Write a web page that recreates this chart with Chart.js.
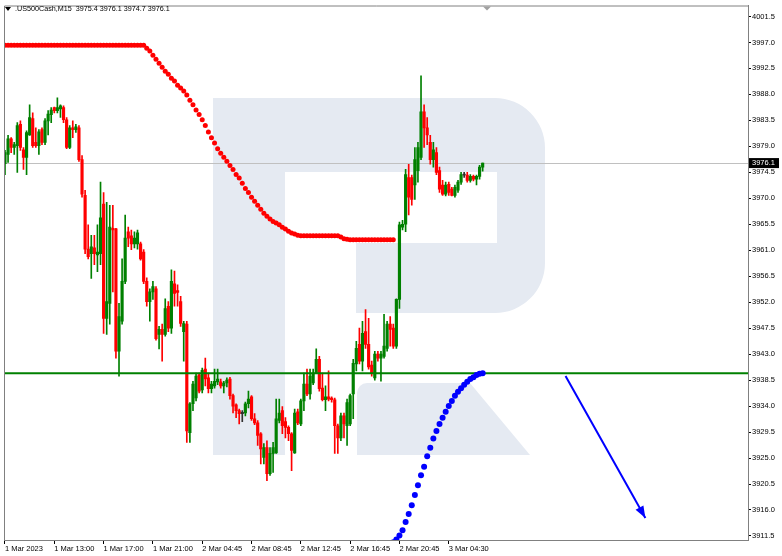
<!DOCTYPE html>
<html>
<head>
<meta charset="utf-8">
<script src="https://cdn.jsdelivr.net/npm/chart.js@4.4.0/dist/chart.umd.min.js"></script>
<style>
html, body { margin: 0; padding: 0; background: #fff; }
canvas { display: block; }
</style>
</head>
<body>
<canvas id="chart" width="782" height="556"></canvas>
<script>
// Chart header
const symbolTitle = '.US500Cash,M15';
const lastQuote = ['3975.4', '3976.1', '3974.7', '3976.1'];

// Time axis: bar index of every label
const xLabels = ['1 Mar 2023', '1 Mar 13:00', '1 Mar 17:00', '1 Mar 21:00', '2 Mar 04:45',
    '2 Mar 08:45', '2 Mar 12:45', '2 Mar 16:45', '2 Mar 20:45', '3 Mar 04:30'];
const xLabelIndex = [0, 16, 32, 48, 64, 80, 96, 112, 128, 144];

// Price axis
const yTicks = [3911.5, 3916.0, 3920.5, 3925.0, 3929.5, 3934.0, 3938.5, 3943.0, 3947.5, 3952.0,
    3956.5, 3961.0, 3965.5, 3970.0, 3974.5, 3979.0, 3983.5, 3988.0, 3992.5, 3997.0, 4001.5];

// M15 candles
const opens = [
    3976.0, 3977.6, 3980.3, 3978.8, 3979.1, 3982.8, 3978.4, 3977.1, 3981.0, 3983.8,
    3979.7, 3979.1, 3981.9, 3979.7, 3983.4, 3984.5, 3985.7, 3985.2, 3985.5, 3985.7,
    3983.6, 3978.8, 3982.2, 3981.9, 3982.2, 3976.7, 3970.5, 3961.2, 3960.4, 3961.4,
    3960.2, 3960.4, 3969.0, 3949.2, 3951.8, 3964.8, 3964.7, 3943.5, 3948.7, 3955.6,
    3964.2, 3963.5, 3962.1, 3962.1, 3962.1, 3960.7, 3955.6, 3952.1, 3953.8, 3954.3,
    3946.4, 3947.3, 3946.4, 3951.3, 3947.5, 3955.2, 3954.0, 3952.1, 3946.9, 3948.2,
    3929.4, 3934.4, 3935.4, 3939.4, 3936.8, 3940.4, 3938.9, 3937.0, 3937.5, 3938.2,
    3938.2, 3937.5, 3938.0, 3938.7, 3935.8, 3934.2, 3933.2, 3932.8, 3932.8, 3934.4,
    3935.6, 3931.8, 3931.1, 3929.2, 3925.1, 3926.8, 3922.3, 3925.8, 3925.9, 3931.5,
    3933.2, 3931.3, 3930.3, 3929.2, 3925.9, 3933.0, 3930.9, 3934.9, 3937.8, 3936.1,
    3938.0, 3939.7, 3942.1, 3937.1, 3935.1, 3935.6, 3935.4, 3935.1, 3930.6, 3928.5,
    3932.3, 3930.6, 3930.9, 3936.1, 3941.3, 3944.7, 3941.8, 3946.9, 3944.7, 3941.1,
    3938.9, 3943.0, 3942.3, 3942.6, 3944.0, 3948.2, 3947.5, 3944.4, 3952.5, 3965.0,
    3965.5, 3973.6, 3973.6, 3972.3, 3974.8, 3977.1, 3985.0, 3982.2, 3979.7, 3976.7,
    3977.9, 3974.8, 3972.3, 3970.7, 3972.4, 3971.6, 3970.5, 3971.4, 3972.8, 3974.1,
    3974.0, 3973.1, 3973.8, 3973.3, 3973.8, 3975.4
];
const highs = [
    3978.3, 3980.9, 3980.5, 3979.7, 3983.1, 3983.4, 3978.8, 3981.7, 3986.2, 3984.8,
    3982.2, 3981.9, 3982.2, 3983.8, 3985.2, 3985.7, 3985.8, 3987.4, 3986.2, 3986.0,
    3984.0, 3982.6, 3983.4, 3982.8, 3982.6, 3977.4, 3971.4, 3965.4, 3963.6, 3963.6,
    3965.4, 3972.8, 3971.0, 3969.3, 3968.8, 3968.8, 3964.8, 3951.8, 3959.5, 3967.1,
    3965.0, 3964.5, 3964.2, 3964.5, 3962.4, 3961.1, 3956.2, 3954.3, 3955.6, 3954.7,
    3947.8, 3948.2, 3952.6, 3952.1, 3957.6, 3957.4, 3955.0, 3953.0, 3948.7, 3948.7,
    3934.6, 3938.3, 3939.7, 3939.7, 3940.6, 3942.3, 3939.7, 3938.3, 3940.4, 3940.4,
    3938.7, 3938.3, 3938.9, 3939.0, 3936.1, 3934.4, 3933.5, 3933.2, 3934.7, 3936.6,
    3935.8, 3932.7, 3931.5, 3929.4, 3927.5, 3928.0, 3926.8, 3927.7, 3935.2, 3935.2,
    3933.9, 3932.0, 3930.6, 3929.4, 3933.5, 3933.5, 3935.2, 3939.7, 3940.4, 3940.4,
    3940.4, 3943.9, 3942.6, 3939.7, 3937.5, 3940.1, 3935.6, 3935.4, 3930.9, 3932.8,
    3932.8, 3935.2, 3936.1, 3942.1, 3945.2, 3947.5, 3948.7, 3950.7, 3949.2, 3941.8,
    3943.5, 3943.5, 3943.5, 3949.9, 3948.7, 3949.5, 3948.2, 3952.6, 3965.9, 3966.2,
    3975.0, 3975.9, 3974.0, 3978.8, 3979.7, 3991.2, 3986.2, 3984.0, 3980.9, 3979.7,
    3978.8, 3975.4, 3973.1, 3972.8, 3972.8, 3971.9, 3972.3, 3973.1, 3974.5, 3974.5,
    3974.5, 3974.1, 3974.0, 3974.0, 3975.7, 3976.1
];
const lows = [
    3974.1, 3976.2, 3977.9, 3977.6, 3974.5, 3978.3, 3975.0, 3974.1, 3980.9, 3978.8,
    3978.8, 3977.6, 3979.3, 3979.3, 3981.0, 3983.1, 3984.8, 3984.8, 3984.0, 3983.1,
    3978.6, 3978.6, 3980.5, 3981.4, 3976.4, 3970.2, 3960.4, 3959.5, 3956.1, 3958.5,
    3957.3, 3958.5, 3946.6, 3946.4, 3948.2, 3953.8, 3942.3, 3939.2, 3948.2, 3955.2,
    3961.6, 3961.1, 3961.4, 3961.2, 3959.3, 3955.2, 3951.3, 3948.7, 3952.5, 3945.4,
    3943.9, 3941.8, 3946.1, 3946.9, 3946.6, 3951.3, 3951.3, 3947.8, 3941.8, 3927.7,
    3927.7, 3933.2, 3934.9, 3936.3, 3936.3, 3937.5, 3936.3, 3936.3, 3937.1, 3937.7,
    3937.1, 3936.3, 3937.3, 3935.2, 3932.8, 3932.0, 3930.9, 3931.3, 3932.3, 3933.7,
    3931.5, 3930.8, 3927.2, 3924.0, 3924.0, 3921.1, 3922.0, 3922.5, 3925.8, 3931.1,
    3929.2, 3928.5, 3928.0, 3922.8, 3925.8, 3930.8, 3930.6, 3933.2, 3935.8, 3935.2,
    3937.7, 3939.6, 3936.6, 3934.9, 3933.2, 3934.9, 3934.7, 3925.8, 3925.8, 3928.0,
    3928.5, 3927.2, 3930.6, 3931.8, 3940.1, 3941.3, 3940.1, 3944.0, 3940.4, 3939.2,
    3938.5, 3941.8, 3938.3, 3942.3, 3943.5, 3944.4, 3944.0, 3944.0, 3950.9, 3964.5,
    3964.2, 3967.1, 3968.8, 3969.8, 3972.8, 3976.7, 3978.8, 3979.3, 3975.9, 3975.4,
    3974.1, 3971.0, 3970.5, 3970.4, 3970.5, 3970.4, 3970.2, 3971.0, 3972.4, 3973.6,
    3972.8, 3972.8, 3973.0, 3972.3, 3973.3, 3974.7
];
const closes = [
    3977.9, 3980.3, 3978.8, 3979.3, 3982.6, 3978.8, 3977.1, 3981.4, 3984.0, 3979.1,
    3979.1, 3981.5, 3979.7, 3983.4, 3984.6, 3985.3, 3985.2, 3985.7, 3986.0, 3983.6,
    3978.8, 3982.2, 3981.9, 3982.4, 3976.7, 3970.7, 3961.2, 3959.9, 3961.6, 3960.4,
    3960.7, 3966.6, 3949.2, 3952.1, 3965.0, 3964.5, 3943.5, 3949.5, 3955.6, 3963.1,
    3963.1, 3962.1, 3963.1, 3964.0, 3959.5, 3955.6, 3952.1, 3953.8, 3954.7, 3945.7,
    3947.3, 3946.4, 3950.9, 3947.5, 3955.6, 3953.5, 3953.7, 3948.3, 3948.3, 3929.7,
    3934.4, 3937.8, 3939.2, 3936.6, 3940.2, 3938.7, 3937.0, 3937.8, 3938.3, 3938.7,
    3937.5, 3938.0, 3938.5, 3935.8, 3934.0, 3933.2, 3932.7, 3932.8, 3934.4, 3935.2,
    3931.8, 3931.1, 3928.9, 3926.6, 3926.8, 3922.3, 3925.8, 3926.8, 3931.8, 3932.8,
    3930.6, 3930.3, 3929.2, 3926.3, 3932.8, 3931.1, 3934.9, 3937.8, 3936.1, 3939.2,
    3939.7, 3942.1, 3937.0, 3935.1, 3935.6, 3935.2, 3935.1, 3930.6, 3928.5, 3932.3,
    3930.9, 3934.6, 3935.8, 3941.4, 3944.0, 3941.8, 3946.6, 3944.7, 3940.8, 3939.7,
    3943.0, 3942.3, 3943.0, 3944.4, 3948.2, 3947.3, 3944.4, 3952.5, 3965.4, 3965.5,
    3974.1, 3970.2, 3969.8, 3976.7, 3978.8, 3985.0, 3982.2, 3981.0, 3976.7, 3978.4,
    3974.5, 3971.6, 3970.7, 3972.3, 3971.0, 3970.5, 3971.9, 3972.8, 3974.1, 3974.1,
    3973.1, 3973.8, 3973.3, 3973.8, 3975.4, 3976.1
];

// Red dotted indicator, one value per bar from bar 0
const redDots = [
    3996.5, 3996.5, 3996.5, 3996.5, 3996.5, 3996.5, 3996.5, 3996.5, 3996.5, 3996.5,
    3996.5, 3996.5, 3996.5, 3996.5, 3996.5, 3996.5, 3996.5, 3996.5, 3996.5, 3996.5,
    3996.5, 3996.5, 3996.5, 3996.5, 3996.5, 3996.5, 3996.5, 3996.5, 3996.5, 3996.5,
    3996.5, 3996.5, 3996.5, 3996.5, 3996.5, 3996.5, 3996.5, 3996.5, 3996.5, 3996.5,
    3996.5, 3996.5, 3996.5, 3996.5, 3996.5, 3996.5, 3996.0, 3995.5, 3994.8, 3994.1,
    3993.4, 3992.7, 3992.0, 3991.5, 3990.8, 3990.3, 3989.6, 3989.1, 3988.6, 3987.9,
    3987.0, 3986.2, 3985.3, 3984.5, 3983.6, 3982.6, 3981.5, 3980.5, 3979.6, 3978.6,
    3977.8, 3977.1, 3976.4, 3975.7, 3975.0, 3974.1, 3973.5, 3972.6, 3971.7, 3971.0,
    3970.2, 3969.5, 3968.8, 3968.1, 3967.4, 3966.9, 3966.4, 3966.0, 3965.7, 3965.4,
    3965.0, 3964.7, 3964.3, 3964.0, 3963.8, 3963.6, 3963.5, 3963.5, 3963.5, 3963.5,
    3963.5, 3963.5, 3963.5, 3963.5, 3963.5, 3963.5, 3963.5, 3963.5, 3963.5, 3963.3,
    3963.0, 3962.9, 3962.8, 3962.8, 3962.8, 3962.8, 3962.8, 3962.8, 3962.8, 3962.8,
    3962.8, 3962.8, 3962.8, 3962.8, 3962.8, 3962.8, 3962.8
];

// Blue dotted indicator, starts at bar 125
const blueStart = 125;
const blueDots = [
    3910.0, 3910.4, 3910.9, 3911.6, 3912.5, 3913.9, 3915.3, 3916.8, 3918.6, 3920.3,
    3922.0, 3923.5, 3925.3, 3926.8, 3928.4, 3929.7, 3930.9, 3932.0, 3933.0, 3934.0,
    3934.9, 3935.8, 3936.5, 3937.1, 3937.7, 3938.2, 3938.7, 3939.0, 3939.4, 3939.6,
    3939.7
];

// Horizontal level, bid line and forecast arrow (bar index, price)
const levelPrice = 3939.7;
const bidPrice = 3976.1;
const arrowBars = [181.9, 207.8];
const arrowPrices = [3939.2, 3914.6];

const xMin = -0.32;
const xMax = 241.1;
const yMin = 3910.8;
const yMax = 4003.4;
const fontFamily = "'Liberation Sans', Arial, sans-serif";

function candleColor(i) {
    if (closes[i] > opens[i]) return '#008000';
    if (closes[i] < opens[i]) return '#ff0000';
    return '#303030';
}

// Floating bar for the body, at least one pixel high
function bodyRange(i) {
    const o = opens[i];
    const c = closes[i];
    if (Math.abs(o - c) < 0.2) {
        return [Math.min(o, c) - 0.1, Math.max(o, c) + 0.1];
    }
    return [o, c];
}

const wickData = opens.map((o, i) => ({ x: i, y: [lows[i], highs[i]] }));
const bodyData = opens.map((o, i) => ({ x: i, y: bodyRange(i) }));
const colors = opens.map((o, i) => candleColor(i));
const redData = redDots.map((v, i) => ({ x: i, y: v }));
const blueData = blueDots.map((v, i) => ({ x: blueStart + i, y: v }));

// Watermark logo and bid line behind the candles
const backdropPlugin = {
    id: 'backdrop',
    beforeDatasetsDraw(chart) {
        const ctx = chart.ctx;
        const area = chart.chartArea;
        ctx.save();
        ctx.beginPath();
        ctx.rect(area.left, area.top, area.right - area.left, area.bottom - area.top);
        ctx.clip();
        ctx.fillStyle = '#e5eaf2';
        ctx.fillRect(213, 98, 72, 357);
        ctx.beginPath();
        ctx.moveTo(285, 98);
        ctx.lineTo(495, 98);
        ctx.arcTo(545, 98, 545, 148, 50);
        ctx.lineTo(545, 263);
        ctx.arcTo(545, 313, 495, 313, 50);
        ctx.lineTo(356, 313);
        ctx.lineTo(356, 243);
        ctx.lineTo(497, 243);
        ctx.lineTo(497, 172);
        ctx.lineTo(285, 172);
        ctx.closePath();
        ctx.fill();
        ctx.beginPath();
        ctx.moveTo(357, 455);
        ctx.lineTo(357, 393);
        ctx.arcTo(357, 383, 367, 383, 10);
        ctx.lineTo(470, 383);
        ctx.lineTo(530, 455);
        ctx.closePath();
        ctx.fill();

        const y = Math.round(chart.scales.y.getPixelForValue(bidPrice)) + 0.5;
        ctx.strokeStyle = '#c0c0c0';
        ctx.lineWidth = 1;
        ctx.beginPath();
        ctx.moveTo(area.left, y);
        ctx.lineTo(area.right, y);
        ctx.stroke();
        ctx.restore();
    }
};

// Frame, header, bid label and arrow head
const overlayPlugin = {
    id: 'overlay',
    afterDraw(chart) {
        const ctx = chart.ctx;
        const area = chart.chartArea;
        const xs = chart.scales.x;
        const ys = chart.scales.y;
        ctx.save();

        ctx.strokeStyle = '#808080';
        ctx.lineWidth = 1;
        ctx.beginPath();
        ctx.moveTo(area.left + 0.5, area.bottom);
        ctx.lineTo(area.left + 0.5, area.top + 0.5);
        ctx.lineTo(area.right, area.top + 0.5);
        ctx.stroke();

        // header
        ctx.fillStyle = '#000';
        ctx.beginPath();
        ctx.moveTo(5, 7);
        ctx.lineTo(11, 7);
        ctx.lineTo(8, 11);
        ctx.closePath();
        ctx.fill();
        ctx.font = '7.2px ' + fontFamily;
        ctx.textBaseline = 'middle';
        ctx.fillText(symbolTitle + '  ' + lastQuote.join(' '), 15, 9);

        // chart shift marker
        ctx.fillStyle = '#a0a0a0';
        ctx.beginPath();
        ctx.moveTo(483, area.top + 1);
        ctx.lineTo(491, area.top + 1);
        ctx.lineTo(487, area.top + 5);
        ctx.closePath();
        ctx.fill();

        // bid label on the price axis
        const by = ys.getPixelForValue(bidPrice);
        ctx.font = '7.5px ' + fontFamily;
        ctx.fillStyle = '#000';
        ctx.fillRect(area.right + 1, by - 5, 30, 10);
        ctx.fillStyle = '#fff';
        ctx.fillText(bidPrice.toFixed(1), area.right + 4, by);

        // arrow head
        const x1 = xs.getPixelForValue(arrowBars[0]);
        const y1 = ys.getPixelForValue(arrowPrices[0]);
        const x2 = xs.getPixelForValue(arrowBars[1]);
        const y2 = ys.getPixelForValue(arrowPrices[1]);
        const ang = Math.atan2(y2 - y1, x2 - x1);
        ctx.fillStyle = '#0000ff';
        ctx.beginPath();
        ctx.moveTo(x2, y2);
        ctx.lineTo(x2 - 12 * Math.cos(ang) + 4.5 * Math.sin(ang), y2 - 12 * Math.sin(ang) - 4.5 * Math.cos(ang));
        ctx.lineTo(x2 - 12 * Math.cos(ang) - 4.5 * Math.sin(ang), y2 - 12 * Math.sin(ang) + 4.5 * Math.cos(ang));
        ctx.closePath();
        ctx.fill();
        ctx.restore();
    }
};

new Chart(document.getElementById('chart'), {
    data: {
        datasets: [
            {
                type: 'bar',
                label: 'wicks',
                data: wickData,
                backgroundColor: colors,
                barThickness: 1,
                grouped: false,
                borderWidth: 0,
                order: 5
            },
            {
                type: 'bar',
                label: 'bodies',
                data: bodyData,
                backgroundColor: colors,
                barThickness: 2.5,
                grouped: false,
                borderWidth: 0,
                order: 4
            },
            {
                type: 'line',
                label: 'level',
                data: [{ x: xMin, y: levelPrice }, { x: xMax, y: levelPrice }],
                borderColor: '#008000',
                borderWidth: 2,
                pointRadius: 0,
                order: 3
            },
            {
                type: 'line',
                label: 'red',
                data: redData,
                showLine: false,
                pointRadius: 2.5,
                pointBorderWidth: 0,
                pointBackgroundColor: '#ff0000',
                order: 2
            },
            {
                type: 'line',
                label: 'blue',
                data: blueData,
                showLine: false,
                pointRadius: 3,
                pointBorderWidth: 0,
                pointBackgroundColor: '#0000ff',
                clip: 0,
                order: 1
            },
            {
                type: 'line',
                label: 'arrow',
                data: arrowBars.map((b, i) => ({ x: b, y: arrowPrices[i] })),
                borderColor: '#0000ff',
                borderWidth: 2,
                pointRadius: 0,
                order: 0
            }
        ]
    },
    options: {
        responsive: false,
        animation: false,
        events: [],
        layout: { padding: { left: 2, top: 2, right: 0, bottom: 0 } },
        plugins: {
            legend: { display: false },
            tooltip: { enabled: false }
        },
        scales: {
            x: {
                type: 'linear',
                offset: false,
                min: xMin,
                max: xMax,
                afterBuildTicks: s => { s.ticks = xLabelIndex.map(v => ({ value: v })); },
                afterFit: s => { s.height = 16; },
                ticks: {
                    callback: v => xLabels[xLabelIndex.indexOf(v)],
                    align: 'start',
                    autoSkip: false,
                    maxRotation: 0,
                    padding: 0,
                    color: '#000',
                    font: { family: fontFamily, size: 7.5 }
                },
                grid: { drawOnChartArea: false, drawTicks: true, tickLength: 4, color: '#000', offset: false },
                border: { display: true, color: '#808080' }
            },
            y: {
                type: 'linear',
                position: 'right',
                min: yMin,
                max: yMax,
                afterBuildTicks: s => { s.ticks = yTicks.map(v => ({ value: v })); },
                afterFit: s => { s.width = 34; },
                ticks: {
                    callback: v => v.toFixed(1),
                    padding: 1,
                    color: '#000',
                    font: { family: fontFamily, size: 7.5 }
                },
                grid: { drawOnChartArea: false, drawTicks: true, tickLength: 3, color: '#000' },
                border: { display: true, color: '#808080' }
            }
        }
    },
    plugins: [backdropPlugin, overlayPlugin]
});
</script>
</body>
</html>
